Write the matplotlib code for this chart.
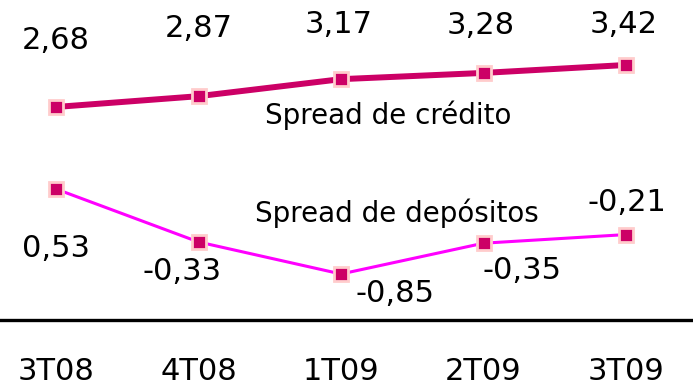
import matplotlib
matplotlib.use("Agg")
import matplotlib.pyplot as plt

# Quarterly spreads (%)
quarters = ["3T08", "4T08", "1T09", "2T09", "3T09"]
spread_credito = [2.68, 2.87, 3.17, 3.28, 3.42]
spread_depositos = [0.53, -0.33, -0.85, -0.35, -0.21]

# label offsets in points (dx, dy) relative to each marker
off_credito = [(0, 48), (0, 49), (-2, 39), (-2, 34), (-2, 29)]
off_depositos = [(0, -43), (-12, -21), (39, -14), (28, -20), (1, 23)]

c_cred = "#CC0066"
c_dep = "#FF00FF"
edge = "#FFCCCC"

plt.rcParams['font.family'] = ['DejaVu Sans']

fig = plt.figure(figsize=(6.93, 3.89), dpi=100)
ax = fig.add_axes([0, 0, 1, 1])
ax2 = ax.twinx()

x = list(range(len(quarters)))

ax.plot(x, spread_credito, color=c_cred, lw=4.3, marker="s", ms=9.5,
        mfc=c_cred, mec=edge, mew=2, zorder=3)
ax2.plot(x, spread_depositos, color=c_dep, lw=2.2, marker="s", ms=9.5,
         mfc=c_cred, mec=edge, mew=2, zorder=3)

for xi, v, (dx, dy) in zip(x, spread_credito, off_credito):
    ax.annotate(f"{v:.2f}".replace(".", ","), (xi, v), xytext=(dx, dy),
                textcoords="offset points", ha="center", va="center", fontsize=22)
for xi, v, (dx, dy) in zip(x, spread_depositos, off_depositos):
    ax2.annotate(f"{v:.2f}".replace(".", ","), (xi, v), xytext=(dx, dy),
                 textcoords="offset points", ha="center", va="center", fontsize=22)

ax.text(2.33, 2.54, "Spread de crédito", ha="center", va="center", fontsize=20)
ax2.text(2.39, 0.14, "Spread de depósitos", ha="center", va="center", fontsize=20)

# axis line under the series
ax.plot([0, 1], [1 - 320 / 389] * 2, transform=ax.transAxes, color="black",
        lw=2.4, clip_on=False)

for xi, q in zip(x, quarters):
    ax.text(xi, 0.044, q, transform=ax.get_xaxis_transform(), ha="center",
            va="center", fontsize=22)

ax.set_xlim(-0.393, 4.47)
ax.set_ylim(-2.29, 4.565)
ax2.set_ylim(-2.717, 3.598)
for a in (ax, ax2):
    a.axis("off")

fig.savefig("out.png", dpi=100)
